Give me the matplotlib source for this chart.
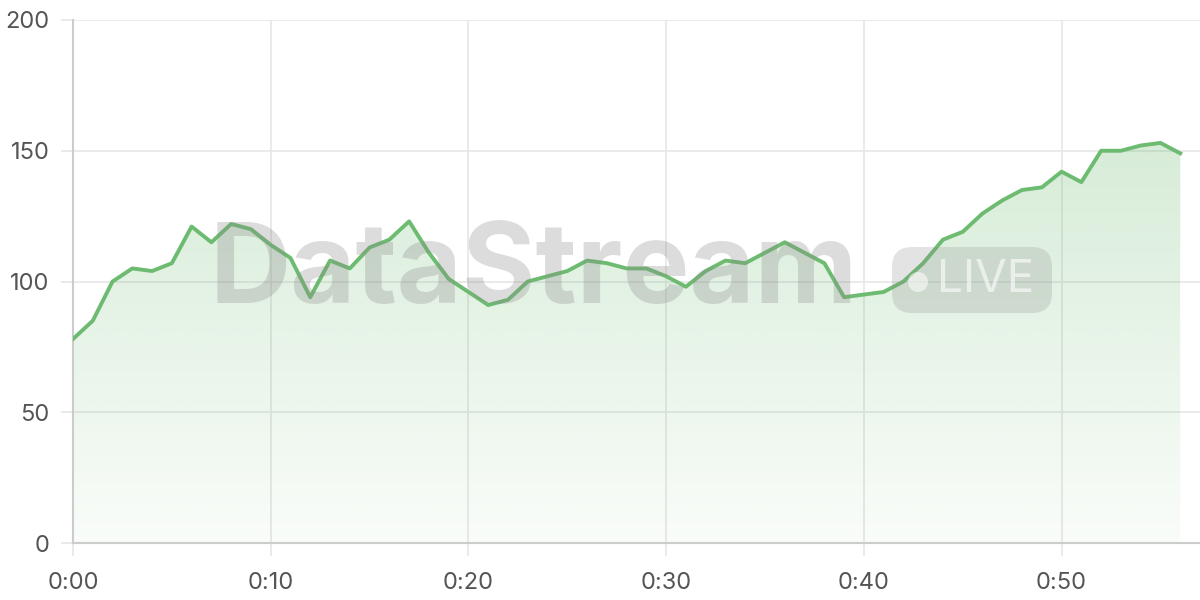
import numpy as np
import matplotlib
matplotlib.use('Agg')
import matplotlib.pyplot as plt
from matplotlib.patches import FancyBboxPatch, Circle

plt.rcParams['font.family'] = ['Inter', 'DejaVu Sans']

minutes = list(range(57))
values = [78, 85, 100, 105, 104, 107, 121, 115, 122, 120,
          114, 109, 94, 108, 105, 113, 116, 123, 111, 101,
          96, 91, 93, 100, 102, 104, 108, 107, 105, 105,
          102, 98, 104, 108, 107, 111, 115, 111, 107, 94,
          95, 96, 100, 107, 116, 119, 126, 131, 135, 136,
          142, 138, 150, 150, 152, 153, 149]
x_ticks = [0, 10, 20, 30, 40, 50]
x_labels = ['0:00', '0:10', '0:20', '0:30', '0:40', '0:50']
y_ticks = [0, 50, 100, 150, 200]

line_color = '#6dbb70'
grid_color = '#e6e6e6'
axis_color = '#cccccc'

fig = plt.figure(figsize=(12, 6), dpi=100)
ax = fig.add_axes([73 / 1200, 57 / 600, 1127 / 1200, 523 / 600])
ax.set_xlim(0, 57)
ax.set_ylim(0, 200)

# gradient fill under the line
fill = ax.fill_between(minutes, values, 0, color='none', lw=0)
grad = np.linspace(0.04, 0.28, 256).reshape(-1, 1)
rgba = np.zeros((256, 1, 4))
rgba[..., 0] = 0x6d / 255
rgba[..., 1] = 0xbb / 255
rgba[..., 2] = 0x70 / 255
rgba[..., 3] = grad
img = ax.imshow(rgba, extent=[0, 56, 0, 155], origin='lower', aspect='auto', zorder=1)
img.set_clip_path(fill.get_paths()[0], transform=ax.transData)

ax.plot(minutes, values, color=line_color, lw=2.8, zorder=4)

# watermark (pixel coords, origin bottom-left)
fig.text(534 / 1200, 1 - 274 / 600, 'DataStream', fontsize=81, fontweight='bold',
         color='#8c8c8c', alpha=0.3, ha='center', va='center', zorder=3)
pill = FancyBboxPatch((892, 600 - 313), 160, 66,
                      boxstyle='round,pad=0,rounding_size=20',
                      transform=None, facecolor='#8c8c8c', alpha=0.24,
                      edgecolor='none', zorder=3)
fig.add_artist(pill)
fig.add_artist(Circle((918, 600 - 282), 10, transform=None,
                      facecolor='white', alpha=0.55, edgecolor='none', zorder=3))
fig.text(986 / 1200, 1 - 280 / 600, 'LIVE', fontsize=33, color='white', alpha=0.6,
         ha='center', va='center', zorder=3)

ax.set_xticks(x_ticks)
ax.set_xticklabels(x_labels)
ax.set_yticks(y_ticks)
ax.grid(True, color=grid_color, lw=1.2, zorder=0)
ax.set_axisbelow(True)
for s in ['top', 'right']:
    ax.spines[s].set_visible(False)
for s in ['left', 'bottom']:
    ax.spines[s].set_color(axis_color)
    ax.spines[s].set_linewidth(1.5)
ax.tick_params(axis='both', colors=grid_color, length=9, width=1.2,
               labelcolor='#555555', labelsize=17, pad=8)
ax.tick_params(axis='x', pad=12)

fig.savefig('out.png', dpi=100)
